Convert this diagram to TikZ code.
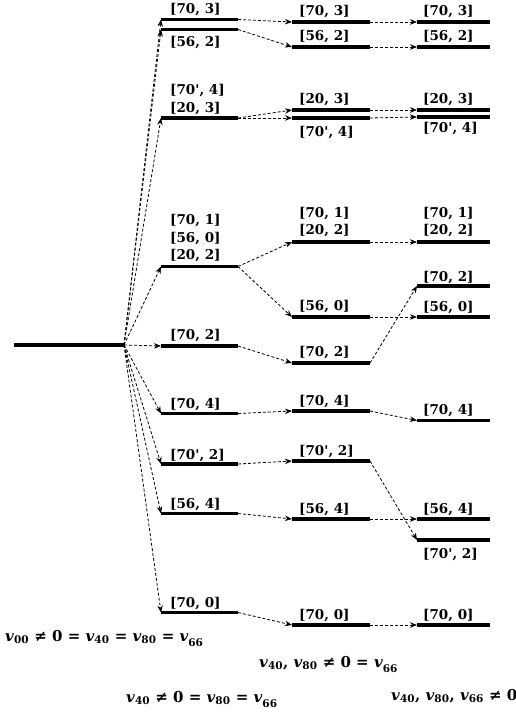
\documentclass[tikz,border=0pt]{standalone}
\usepackage{fontspec}
\setmainfont{DejaVu Serif}
\usetikzlibrary{arrows.meta}
\tikzset{
  lvl/.style={line width=3.2pt},
  conn/.style={line width=0.8pt, dash pattern=on 3pt off 2pt,
    -{Stealth[length=7pt,width=5.5pt,inset=2.2pt]}},
  lab/.style={anchor=base west, inner sep=0pt, font=\fontsize{13.5}{17}\selectfont\bfseries},
  eq/.style={anchor=base west, inner sep=0pt, font=\fontsize{15}{18}\selectfont\bfseries},
}
\newcommand\drawlvl[4]{%
  \coordinate (#1-l) at (#2,#4); \coordinate (#1-r) at (#3,#4);
  \draw[lvl] (#1-l) -- (#1-r);}
\newcommand\vsb[1]{\textit{v}\textsubscript{#1}}
\newcommand\vsbl[1]{\textit{v}\raisebox{-2.5pt}{\textsubscript{#1}}}
\newcommand\pr{\textquotesingle}
\begin{document}
\begin{tikzpicture}[x=1pt,y=-1pt]
\useasboundingbox (0,0) rectangle (516,714);
% ground
\coordinate (g-l) at (14,345);
\coordinate (fan) at (124,345);
\draw[lvl] (g-l) -- (fan);
% column 1
\drawlvl{c1a}{161}{238}{19.5}
\drawlvl{c1b}{161}{238}{29.5}
\drawlvl{c1c}{161}{238}{118}
\drawlvl{c1d}{161}{238}{266.5}
\drawlvl{c1e}{161}{238}{346}
\drawlvl{c1f}{161}{238}{413.5}
\drawlvl{c1g}{161}{238}{464}
\drawlvl{c1h}{161}{238}{513.5}
\drawlvl{c1i}{161}{238}{612.5}
% column 2
\drawlvl{c2a}{292}{370}{22}
\drawlvl{c2b}{292}{370}{47}
\drawlvl{c2c}{292}{370}{110}
\drawlvl{c2d}{292}{370}{118}
\drawlvl{c2e}{292}{370}{242}
\drawlvl{c2f}{292}{370}{317}
\drawlvl{c2g}{292}{370}{363}
\drawlvl{c2h}{292}{370}{411}
\drawlvl{c2i}{292}{370}{461}
\drawlvl{c2j}{292}{370}{519}
\drawlvl{c2k}{292}{370}{625}
% column 3
\drawlvl{c3a}{417}{490}{22}
\drawlvl{c3b}{417}{490}{47}
\drawlvl{c3c}{417}{490}{110}
\drawlvl{c3d}{417}{490}{117}
\drawlvl{c3e}{417}{490}{242}
\drawlvl{c3f}{417}{490}{286}
\drawlvl{c3g}{417}{490}{317}
\drawlvl{c3h}{417}{490}{420.5}
\drawlvl{c3i}{417}{490}{519}
\drawlvl{c3j}{417}{490}{540}
\drawlvl{c3k}{417}{490}{625}
% labels column 1
\node[lab] (l1a) at (170,14) {[70, 3]};
\node[lab] (l1b) at (170,46.5) {[56, 2]};
\node[lab] (l1c1) at (170,95) {[70\pr, 4]};
\node[lab] (l1c2) at (170,112.5) {[20, 3]};
\node[lab] (l1d1) at (170,224.5) {[70, 1]};
\node[lab] (l1d2) at (170,242) {[56, 0]};
\node[lab] (l1d3) at (170,259.5) {[20, 2]};
\node[lab] (l1e) at (170,339.5) {[70, 2]};
\node[lab] (l1f) at (170,408.5) {[70, 4]};
\node[lab] (l1g) at (170,459) {[70\pr, 2]};
\node[lab] (l1h) at (170,508.5) {[56, 4]};
\node[lab] (l1i) at (170,607.5) {[70, 0]};
% labels column 2
\node[lab] (l2a) at (299,16) {[70, 3]};
\node[lab] (l2b) at (299,41) {[56, 2]};
\node[lab] (l2c) at (299,104) {[20, 3]};
\node[lab] (l2d) at (299,137) {[70\pr, 4]};
\node[lab] (l2e1) at (299,217) {[70, 1]};
\node[lab] (l2e2) at (299,234.5) {[20, 2]};
\node[lab] (l2f) at (299,310.5) {[56, 0]};
\node[lab] (l2g) at (299,356.5) {[70, 2]};
\node[lab] (l2h) at (299,405) {[70, 4]};
\node[lab] (l2i) at (299,455) {[70\pr, 2]};
\node[lab] (l2j) at (299,513) {[56, 4]};
\node[lab] (l2k) at (299,619) {[70, 0]};
% labels column 3
\node[lab] (l3a) at (423,16) {[70, 3]};
\node[lab] (l3b) at (423,41) {[56, 2]};
\node[lab] (l3c) at (423,104) {[20, 3]};
\node[lab] (l3d) at (423,132.5) {[70\pr, 4]};
\node[lab] (l3e1) at (423,217) {[70, 1]};
\node[lab] (l3e2) at (423,234.5) {[20, 2]};
\node[lab] (l3f) at (423,281.5) {[70, 2]};
\node[lab] (l3g) at (423,311.5) {[56, 0]};
\node[lab] (l3h) at (423,414.5) {[70, 4]};
\node[lab] (l3i) at (423,513) {[56, 4]};
\node[lab] (l3j) at (423,558) {[70\pr, 2]};
\node[lab] (l3k) at (423,619) {[70, 0]};
% fan arrows
\foreach \t in {c1a,c1b,c1c,c1d,c1e,c1f,c1g,c1h,c1i}
  \draw[conn] (fan) -- (\t-l);
% column 1 -> column 2
\draw[conn] (c1a-r) -- (c2a-l);
\draw[conn] (c1b-r) -- (c2b-l);
\draw[conn] (c1c-r) -- (c2c-l);
\draw[conn] (c1c-r) -- (c2d-l);
\draw[conn] (c1d-r) -- (c2e-l);
\draw[conn] (c1d-r) -- (c2f-l);
\draw[conn] (c1e-r) -- (c2g-l);
\draw[conn] (c1f-r) -- (c2h-l);
\draw[conn] (c1g-r) -- (c2i-l);
\draw[conn] (c1h-r) -- (c2j-l);
\draw[conn] (c1i-r) -- (c2k-l);
% column 2 -> column 3
\draw[conn] (c2a-r) -- (c3a-l);
\draw[conn] (c2b-r) -- (c3b-l);
\draw[conn] (c2c-r) -- (c3c-l);
\draw[conn] (c2d-r) -- (c3d-l);
\draw[conn] (c2e-r) -- (c3e-l);
\draw[conn] (c2f-r) -- (c3g-l);
\draw[conn] (c2g-r) -- (c3f-l);
\draw[conn] (c2h-r) -- (c3h-l);
\draw[conn] (c2i-r) -- (c3j-l);
\draw[conn] (c2j-r) -- (c3i-l);
\draw[conn] (c2k-r) -- (c3k-l);
% bottom captions
\node[eq] (e0) at (5,641) {\vsb{00} ≠ 0 = \vsb{40} = \vsb{80} = \vsbl{66}};
\node[eq] (e1) at (126,702) {\vsb{40} ≠ 0 = \vsb{80} = \vsbl{66}};
\node[eq] (e2) at (259,667) {\vsb{40}, \vsb{80} ≠ 0 = \vsbl{66}};
\node[eq] (e3) at (391,700) {\vsb{40}, \vsb{80}, \vsb{66} ≠ 0};
\end{tikzpicture}
\end{document}
